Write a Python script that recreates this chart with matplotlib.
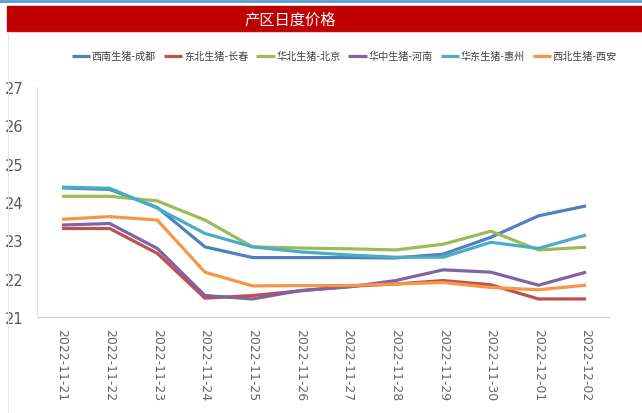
import matplotlib
matplotlib.use("Agg")
from matplotlib import pyplot as plt
from matplotlib.patches import Rectangle
from matplotlib.lines import Line2D

plt.rcParams['font.family'] = ['Noto Sans CJK SC', 'DejaVu Sans']

dates = ["2022-11-21", "2022-11-22", "2022-11-23", "2022-11-24", "2022-11-25", "2022-11-26",
         "2022-11-27", "2022-11-28", "2022-11-29", "2022-11-30", "2022-12-01", "2022-12-02"]

chengdu = [24.37, 24.33, 23.86, 22.83, 22.55, 22.55, 22.55, 22.54, 22.64, 23.08, 23.64, 23.90]
changchun = [23.31, 23.31, 22.66, 21.49, 21.56, 21.68, 21.80, 21.86, 21.95, 21.84, 21.47, 21.47]
beijing = [24.15, 24.15, 24.03, 23.53, 22.83, 22.80, 22.78, 22.75, 22.90, 23.24, 22.75, 22.82]
henan = [23.40, 23.44, 22.79, 21.56, 21.47, 21.69, 21.78, 21.95, 22.23, 22.17, 21.83, 22.17]
huizhou = [24.39, 24.36, 23.84, 23.18, 22.83, 22.70, 22.62, 22.56, 22.56, 22.95, 22.79, 23.14]
xian = [23.55, 23.62, 23.53, 22.17, 21.81, 21.82, 21.82, 21.86, 21.90, 21.77, 21.71, 21.83]

series = [
    ("西南生猪-成都", chengdu, "#4F81BD"),
    ("东北生猪-长春", changchun, "#C0504D"),
    ("华北生猪-北京", beijing, "#9BBB59"),
    ("华中生猪-河南", henan, "#8064A2"),
    ("华东生猪-惠州", huizhou, "#4BACC6"),
    ("西北生猪-西安", xian, "#F79646"),
]

fig = plt.figure(figsize=(6.42, 4.14), dpi=100)
ax = fig.add_axes([0.058, 0.232, 0.892, 0.555])

x = list(range(len(dates)))
for name, vals, col in series:
    ax.plot(x, vals, color=col, linewidth=2.3, label=name, solid_capstyle='butt')

ax.set_ylim(21, 27)
ax.set_xlim(-0.52, 11.5)
ax.set_yticks([21, 22, 23, 24, 25, 26, 27])
ax.set_xticks(x)
ax.set_xticklabels(dates, rotation=-90, fontsize=9, color="#666666", family="DejaVu Sans")
ax.tick_params(axis='y', labelsize=10.5, colors="#595959", length=0, pad=10)
ax.tick_params(axis='x', length=0, pad=8)
for lab in ax.get_yticklabels():
    lab.set_family("Liberation Sans Narrow")
for s in ["top", "right"]:
    ax.spines[s].set_visible(False)
ax.spines["left"].set_color("#E0E0E0")
ax.spines["bottom"].set_color("#D0D0D0")

# title bar
fig.patches.append(Rectangle((7 / 642, 1 - 32 / 414), 1 - 7 / 642, 25 / 414,
                             transform=fig.transFigure, color="#C00000", zorder=0))
fig.text(0.452, 1 - 20 / 414, "产区日度价格", color="white", fontsize=11,
         ha="center", va="center")
fig.lines.append(Line2D([0, 1], [1 - 2 / 414, 1 - 2 / 414], transform=fig.transFigure,
                        color="#5B9BD5", linewidth=2))
fig.lines.append(Line2D([7 / 642, 1], [1 - 33 / 414, 1 - 33 / 414], transform=fig.transFigure,
                        color="#F4C7C7", linewidth=0.8))
fig.lines.append(Line2D([8 / 642, 8 / 642], [0, 1 - 33 / 414], transform=fig.transFigure,
                        color="#E6E6E6", linewidth=0.8))

fig.legend(loc="center left", bbox_to_anchor=(72 / 642, 1 - 57 / 414), ncol=6, frameon=False,
           fontsize=7.3, handlelength=1.8, handletextpad=0.15, columnspacing=0.8,
           labelcolor="#404040", borderaxespad=0, borderpad=0)

fig.savefig("out.png", dpi=100)
